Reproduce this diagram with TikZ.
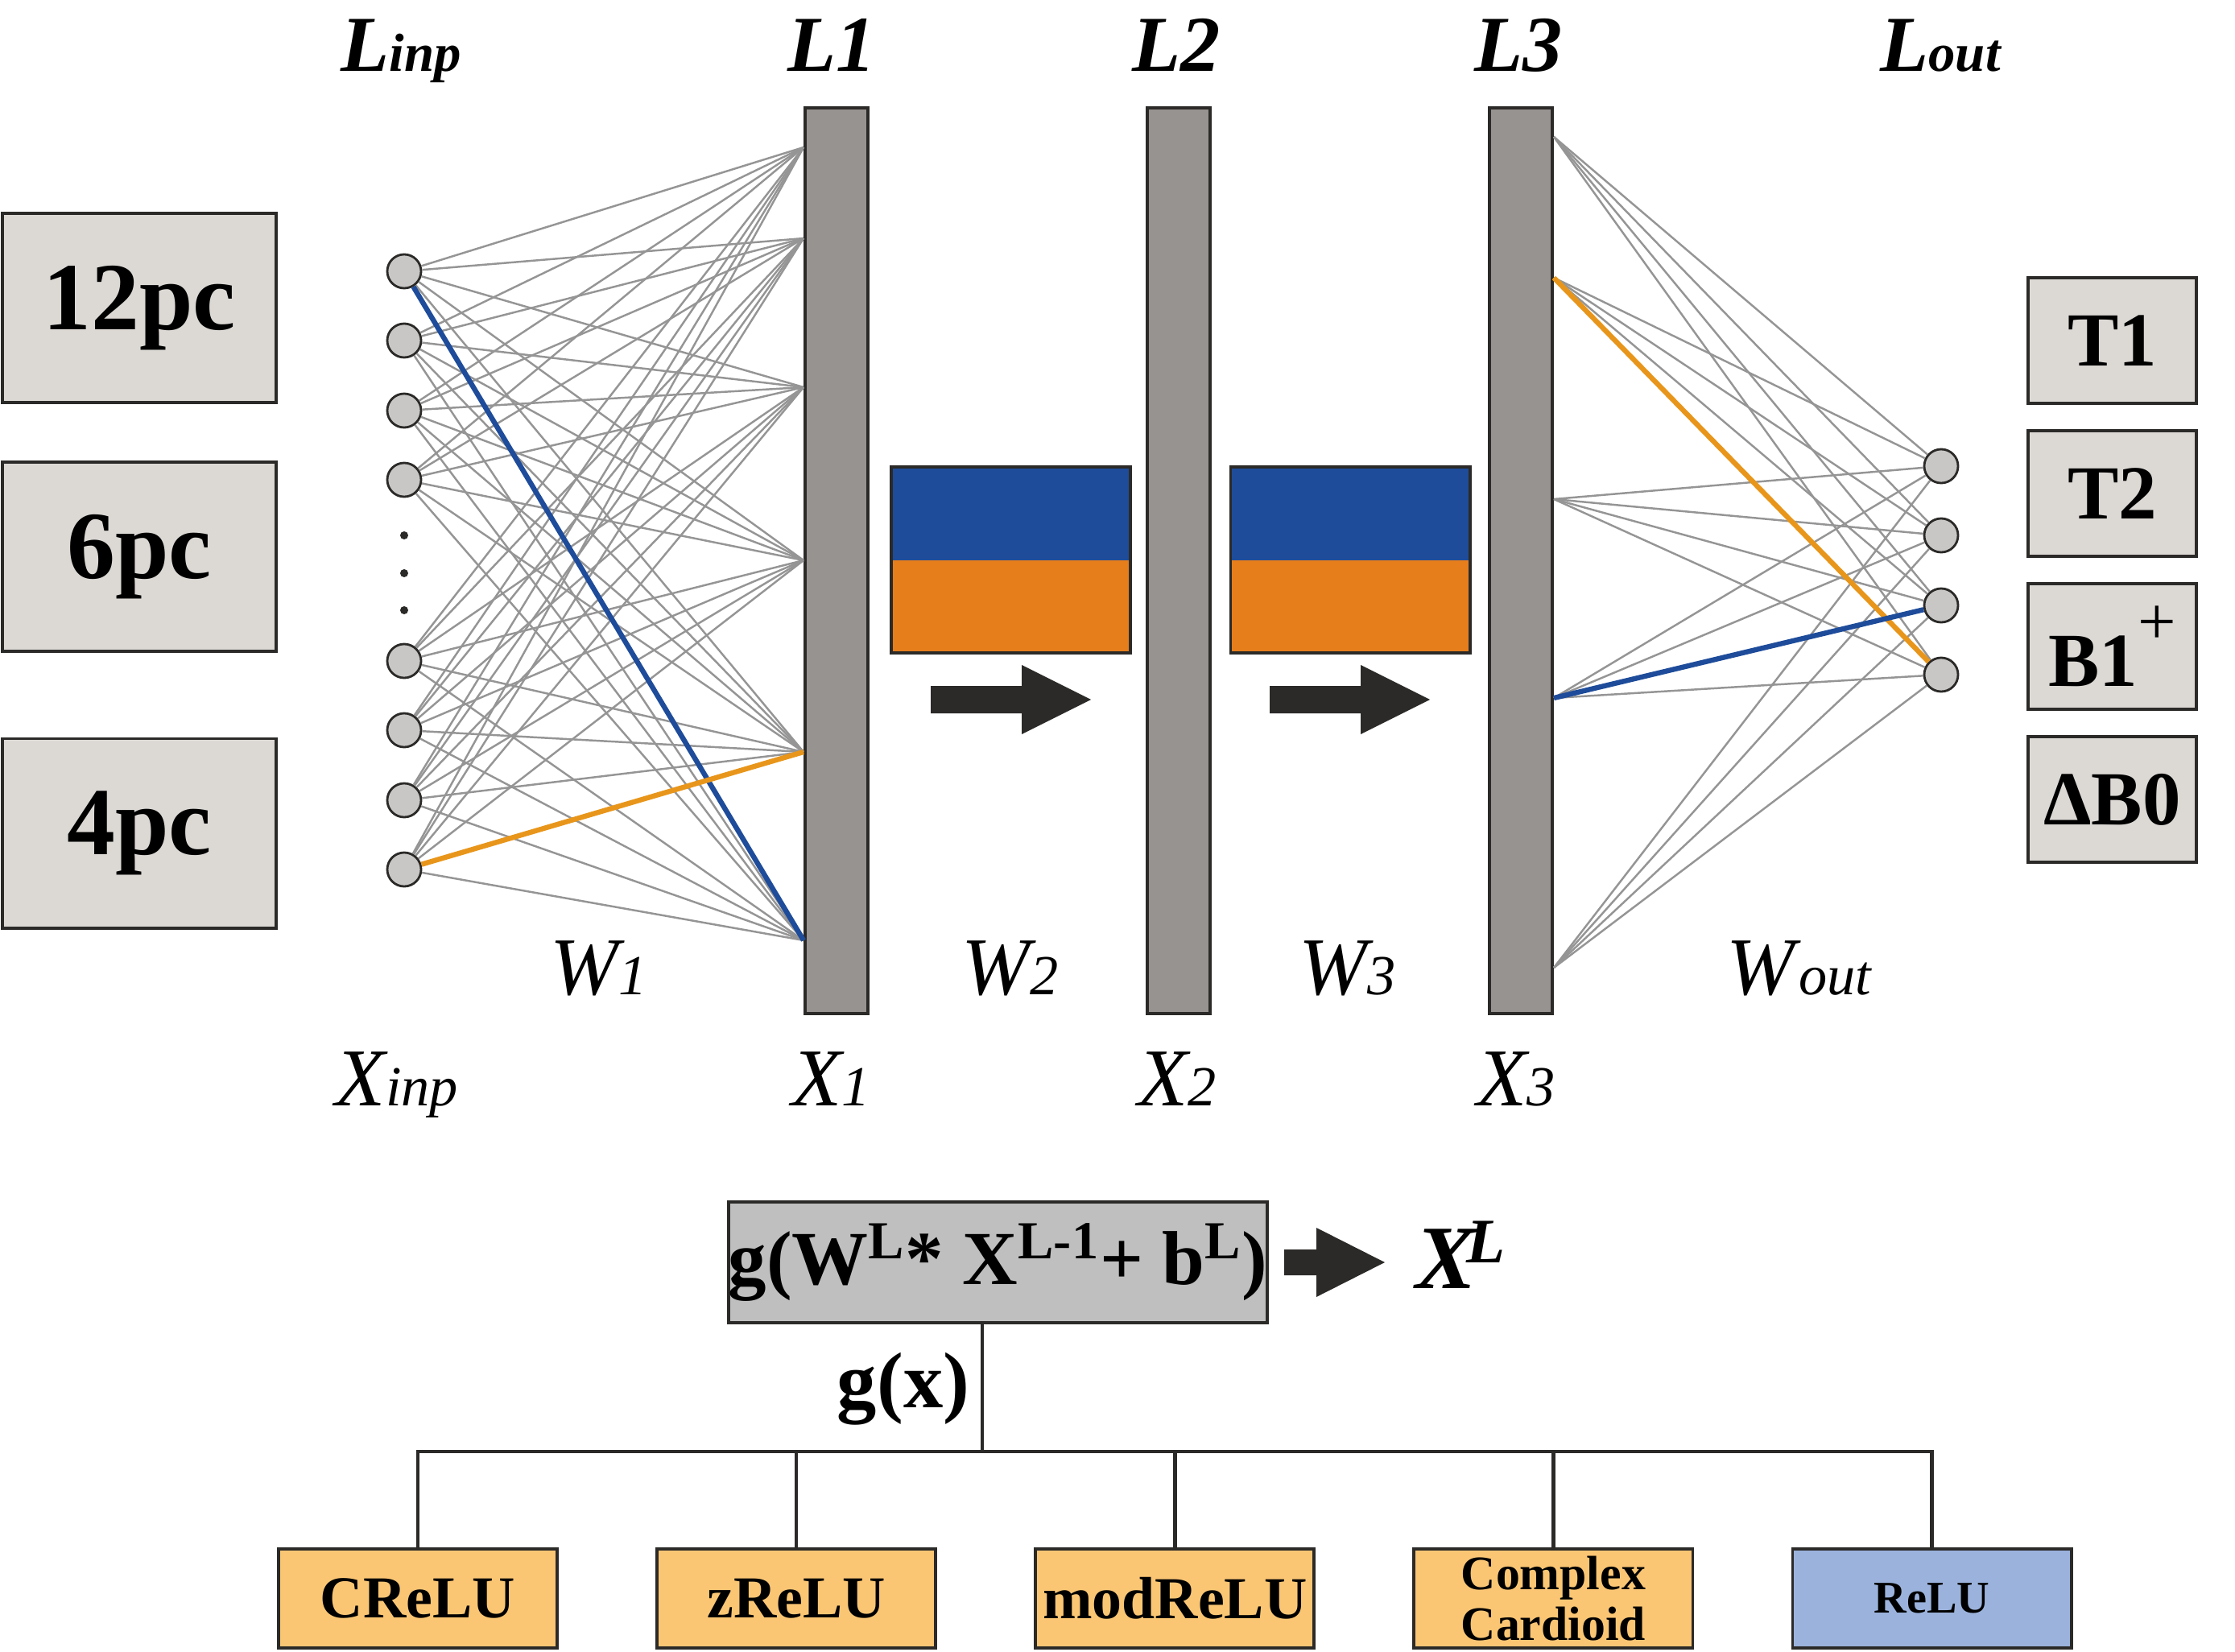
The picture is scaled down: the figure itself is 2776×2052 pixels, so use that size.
\documentclass[tikz,border=0pt]{standalone}
\usepackage{fontspec}
\setmainfont{Liberation Serif}
\usetikzlibrary{positioning}
\definecolor{edgedark}{HTML}{2B2A28}
\definecolor{bargray}{HTML}{979390}
\definecolor{unitgray}{HTML}{C8C7C5}
\definecolor{boxgray}{HTML}{DCD9D5}
\definecolor{formgray}{HTML}{BEBFBE}
\definecolor{wiregray}{HTML}{959595}
\definecolor{realblue}{HTML}{1E4C9A}
\definecolor{imagorange}{HTML}{E67E1B}
\definecolor{wireorange}{HTML}{E8961B}
\definecolor{actorange}{HTML}{FAC674}
\definecolor{actblue}{HTML}{9BB3DC}
\begin{document}
\begin{tikzpicture}[x=0.01cm,y=-0.01cm,
      unit node/.style={circle,draw=edgedark,fill=unitgray,line width=0.8pt,minimum size=0.42cm,inner sep=0pt},
      dot node/.style={circle,fill=edgedark,minimum size=0.1cm,inner sep=0pt},
      layer bar/.style={rectangle,draw=edgedark,fill=bargray,line width=1.1pt,minimum width=0.78cm,minimum height=11.25cm,inner sep=0pt},
      res box/.style={rectangle,draw=edgedark,fill=boxgray,line width=1.1pt,minimum width=3.4cm,minimum height=2.35cm,inner sep=0pt,font=\fontsize{34}{40}\selectfont\bfseries},
      map box/.style={rectangle,draw=edgedark,fill=boxgray,line width=1.1pt,minimum width=2.09cm,minimum height=1.56cm,inner sep=0pt,font=\fontsize{27}{32}\selectfont\bfseries},
      cplx box/.style={rectangle,draw=edgedark,fill=imagorange,line width=1.1pt,minimum width=2.97cm,minimum height=2.31cm,inner sep=0pt,
        path picture={\fill[realblue] (path picture bounding box.north west) rectangle (path picture bounding box.east);}},
      act box/.style={rectangle,draw=edgedark,fill=actorange,line width=1.1pt,minimum width=3.46cm,minimum height=1.23cm,inner sep=0pt,align=center,font=\fontsize{21}{24}\selectfont\bfseries},
      layer label/.style={anchor=base,font=\fontsize{28}{32}\selectfont\bfseries\itshape},
      var label/.style={anchor=base,font=\fontsize{29}{32}\selectfont\itshape},
      weight/.style={draw=wiregray,line width=0.7pt},
      hot weight/.style={line width=1.8pt},
      fat arrow/.style={fill=edgedark},
      tree/.style={draw=edgedark,line width=1.3pt}]
      \useasboundingbox (0,0) rectangle (2776,2052);

      \foreach \y [count=\i] in {337,423,510,596,821,907,994,1080}
        \node[unit node] (i\i) at (502,\y) {};
      \foreach \y [count=\k] in {665,712,758}
        \node[dot node] (dot\k) at (502,\y) {};

      \node[layer bar] (l1) at (1039,696.5) {};
      \node[layer bar] (l2) at (1464,696.5) {};
      \node[layer bar] (l3) at (1889,696.5) {};

      \foreach \y [count=\j] in {579,665,752,838}
        \node[unit node] (o\j) at (2411,\y) {};

      \foreach \y [count=\j] in {183,296,481,696,934,1168}
        \coordinate (p\j) at (l1.west |- 0,\y);
      \foreach \y [count=\j] in {170,345,620,867,1202}
        \coordinate (q\j) at (l3.east |- 0,\y);

      \foreach \i in {1,...,8}
        \foreach \j in {1,...,6}
          \draw[weight] (i\i) -- (p\j);
      \draw[weight,hot weight,draw=realblue] (i1) -- (p6);
      \draw[weight,hot weight,draw=wireorange] (i8) -- (p5);

      \foreach \i in {1,...,5}
        \foreach \j in {1,...,4}
          \draw[weight] (q\i) -- (o\j);
      \draw[weight,hot weight,draw=wireorange] (q2) -- (o4);
      \draw[weight,hot weight,draw=realblue] (q4) -- (o3);

      \node[layer label] (linp) at (498,89) {L{\fontsize{19}{22}\selectfont inp}};
      \node[layer label] (lab1) at (1033,89) {L1};
      \node[layer label] (lab2) at (1461,89) {L2};
      \node[layer label] (lab3) at (1886,89) {L3};
      \node[layer label] (lout) at (2410,89) {L{\fontsize{19}{22}\selectfont out}};

      \node[var label] (w1) at (744,1235) {W{\fontsize{20}{22}\selectfont 1}};
      \node[var label] (w2) at (1255,1235) {W{\fontsize{20}{22}\selectfont 2}};
      \node[var label] (w3) at (1674,1235) {W{\fontsize{20}{22}\selectfont 3}};
      \node[var label] (wout) at (2234,1235) {W\kern0.05em{\fontsize{20}{22}\selectfont out}};

      \node[var label] (xinp) at (493,1373) {X{\fontsize{20}{22}\selectfont inp}};
      \node[var label] (x1) at (1032,1373) {X{\fontsize{20}{22}\selectfont 1}};
      \node[var label] (x2) at (1462,1373) {X{\fontsize{20}{22}\selectfont 2}};
      \node[var label] (x3) at (1883,1373) {X{\fontsize{20}{22}\selectfont 3}};

      \node[res box] (r12) at (173,382.5) {12pc};
      \node[res box] (r6) at (173,691.5) {6pc};
      \node[res box] (r4) at (173,1035) {4pc};

      \node[map box] (t1) at (2623.5,423) {T1};
      \node[map box,below=0.3cm of t1] (t2) {T2};
      \node[map box,below=0.3cm of t2] (b1) {B1\raisebox{0.55em}{\fontsize{24}{26}\selectfont\mdseries +}};
      \node[map box,below=0.3cm of b1] (db0) {ΔB0};

      \node[cplx box] (m2) at (1255.5,695.5) {};
      \node[cplx box] (m3) at (1677,695.5) {};
      \foreach \x in {1156,1577}
        \fill[fat arrow] (\x,852) -- ++(113,0) -- ++(0,-26) -- ++(86,43) -- ++(-86,43) -- ++(0,-26) -- ++(-113,0) -- cycle;

      \node[rectangle,draw=edgedark,fill=formgray,line width=1.1pt,minimum width=6.69cm,minimum height=1.5cm,inner sep=0pt,
        font=\fontsize{27}{32}\selectfont\bfseries] (gbox) at (1239.5,1568) {g(W\textsuperscript{L}* X\textsuperscript{L-1}+ b\textsuperscript{L})};
      \fill[fat arrow] (1595,1552) -- ++(40,0) -- ++(0,-27) -- ++(85,43) -- ++(-85,43) -- ++(0,-27) -- ++(-40,0) -- cycle;
      \node[anchor=base,font=\fontsize{32}{36}\selectfont\bfseries\itshape] (xl) at (1815,1600) {X\kern-0.1em\textsuperscript{L}};

      \coordinate (gsplit) at (1220,1803);
      \node[anchor=base,font=\fontsize{28}{32}\selectfont\bfseries] (gx) at (1122,1748) {g(x)};

      \node[act box] (act1) at (519,1985.5) {CReLU};
      \node[act box,right=1.2cm of act1] (act2) {zReLU};
      \node[act box,right=1.2cm of act2] (act3) {modReLU};
      \node[act box,right=1.2cm of act3,font=\fontsize{17}{18}\selectfont\bfseries] (act4) {Complex\\Cardioid};
      \node[act box,right=1.2cm of act4,fill=actblue,font=\fontsize{16}{18}\selectfont\bfseries] (act5) {ReLU};

      \draw[tree] (gbox.south -| gsplit) -- (gsplit);
      \draw[tree] (act1.north) -- (act1.north |- gsplit) -- (act5.north |- gsplit) -- (act5.north);
      \foreach \k in {2,3,4}
        \draw[tree] (act\k.north) -- (act\k.north |- gsplit);
    \end{tikzpicture}
\end{document}
